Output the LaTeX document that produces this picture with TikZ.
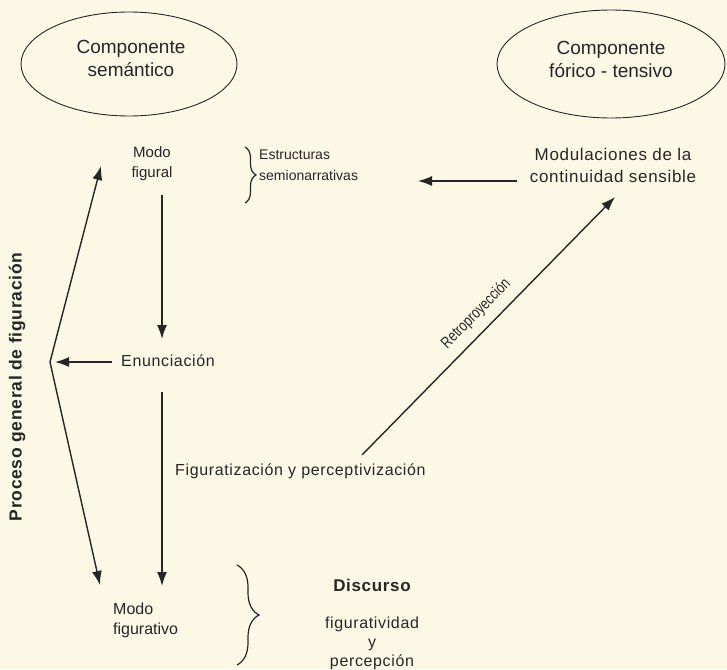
\documentclass[tikz,border=0pt]{standalone}
\usepackage{fontspec}
\setmainfont{Liberation Sans}
\newfontfamily\widefont{Liberation Sans}[LetterSpace=4]
\newfontfamily\narrowfont{Liberation Sans}[FakeStretch=0.78]
\usetikzlibrary{arrows.meta,shapes.geometric,decorations.pathreplacing}
\definecolor{bg}{RGB}{251,249,230}
\definecolor{ink}{RGB}{38,38,38}
\begin{document}
\begin{tikzpicture}[x=1pt,y=-1pt,
  ell/.style={draw=ink,line width=0.9pt,ellipse,inner sep=0pt},
  ttl/.style={text=ink,inner sep=0pt,align=center,font=\fontsize{19}{23}\selectfont},
  lbl/.style={text=ink,inner sep=0pt,align=center,font=\widefont\fontsize{16}{21}\selectfont},
  sml/.style={text=ink,inner sep=0pt,align=center,font=\fontsize{15}{20}\selectfont},
  arr/.style={draw=ink,line width=1.4pt,-{Latex[length=14pt,width=10pt]}},
  darr/.style={draw=ink,line width=1.4pt,{Latex[length=14pt,width=10pt]}-{Latex[length=14pt,width=10pt]}},
  brc/.style={draw=ink,line width=1.2pt,decorate}
]
\fill[bg] (0,0) rectangle (727,669);
\useasboundingbox (0,0) rectangle (727,669);

% ellipses
\node[ell,minimum width=216pt,minimum height=104pt] (sem) at (129,64) {};
\node[ttl] (semt) at (131,58) {Componente\\sem\'antico};
\node[ell,minimum width=228pt,minimum height=108pt] (foric) at (611,64) {};
\node[ttl] (forict) at (611,59) {Componente\\f\'orico - tensivo};

% texts
\node[sml] (mfig) at (152,164) {Modo\\figural};
\node[sml,font=\fontsize{14}{21}\selectfont,align=left,anchor=west] (estr) at (259,165) {Estructuras\\semionarrativas};
\node[lbl,font=\widefont\fontsize{17}{22}\selectfont] (modul) at (613,165) {Modulaciones de la\\continuidad sensible};
\node[lbl] (enun) at (168,361) {Enunciaci\'on};
\node[lbl,anchor=west] (figp) at (175,471) {Figuratizaci\'on y perceptivizaci\'on};
\node[lbl,rotate=90,font=\widefont\fontsize{17.5}{20}\selectfont\bfseries] (proc) at (17,387) {Proceso general de figuraci\'on};
\node[sml,font=\fontsize{16}{20}\selectfont,align=left,anchor=west] (mfgv) at (113,620) {Modo\\figurativo};
\node[lbl,font=\widefont\fontsize{17}{20}\selectfont\bfseries] (disc) at (372,585) {Discurso};
\node[lbl,font=\widefont\fontsize{16}{19}\selectfont] (figv) at (372,643) {figuratividad\\y\\percepci\'on};

% braces
\coordinate (b1t) at (245,147);
\coordinate (b1b) at (245,203);
\draw[brc,decoration={brace,amplitude=11pt}] (b1t) -- (b1b);
\coordinate (b2t) at (237,565);
\coordinate (b2b) at (237,665);
\draw[brc,decoration={brace,amplitude=22pt}] (b2t) -- (b2b);

% arrows
\coordinate (a1s) at (162,195);
\coordinate (a1e) at (162,339);
\draw[arr] (a1s) -- (a1e);
\coordinate (a2s) at (162,392);
\coordinate (a2e) at (162,586);
\draw[arr] (a2s) -- (a2e);
\coordinate (hs) at (517,181);
\coordinate (he) at (418,181);
\draw[arr] (hs) -- (he);
\coordinate (ls) at (112,362);
\coordinate (le) at (55,362);
\draw[arr] (ls) -- (le);
\coordinate (vup) at (101,166);
\coordinate (vmid) at (50,362);
\coordinate (vdn) at (100,585);
\draw[darr] (vup) -- (vmid) -- (vdn);
\coordinate (rs) at (362,455);
\coordinate (re) at (615,197);
\draw[arr] (rs) -- node[sloped,above=9pt,pos=0.5,inner sep=0pt,text=ink,
  font=\narrowfont\fontsize{16}{18}\selectfont] (retro) {Retroproyecci\'on} (re);
\end{tikzpicture}
\end{document}
